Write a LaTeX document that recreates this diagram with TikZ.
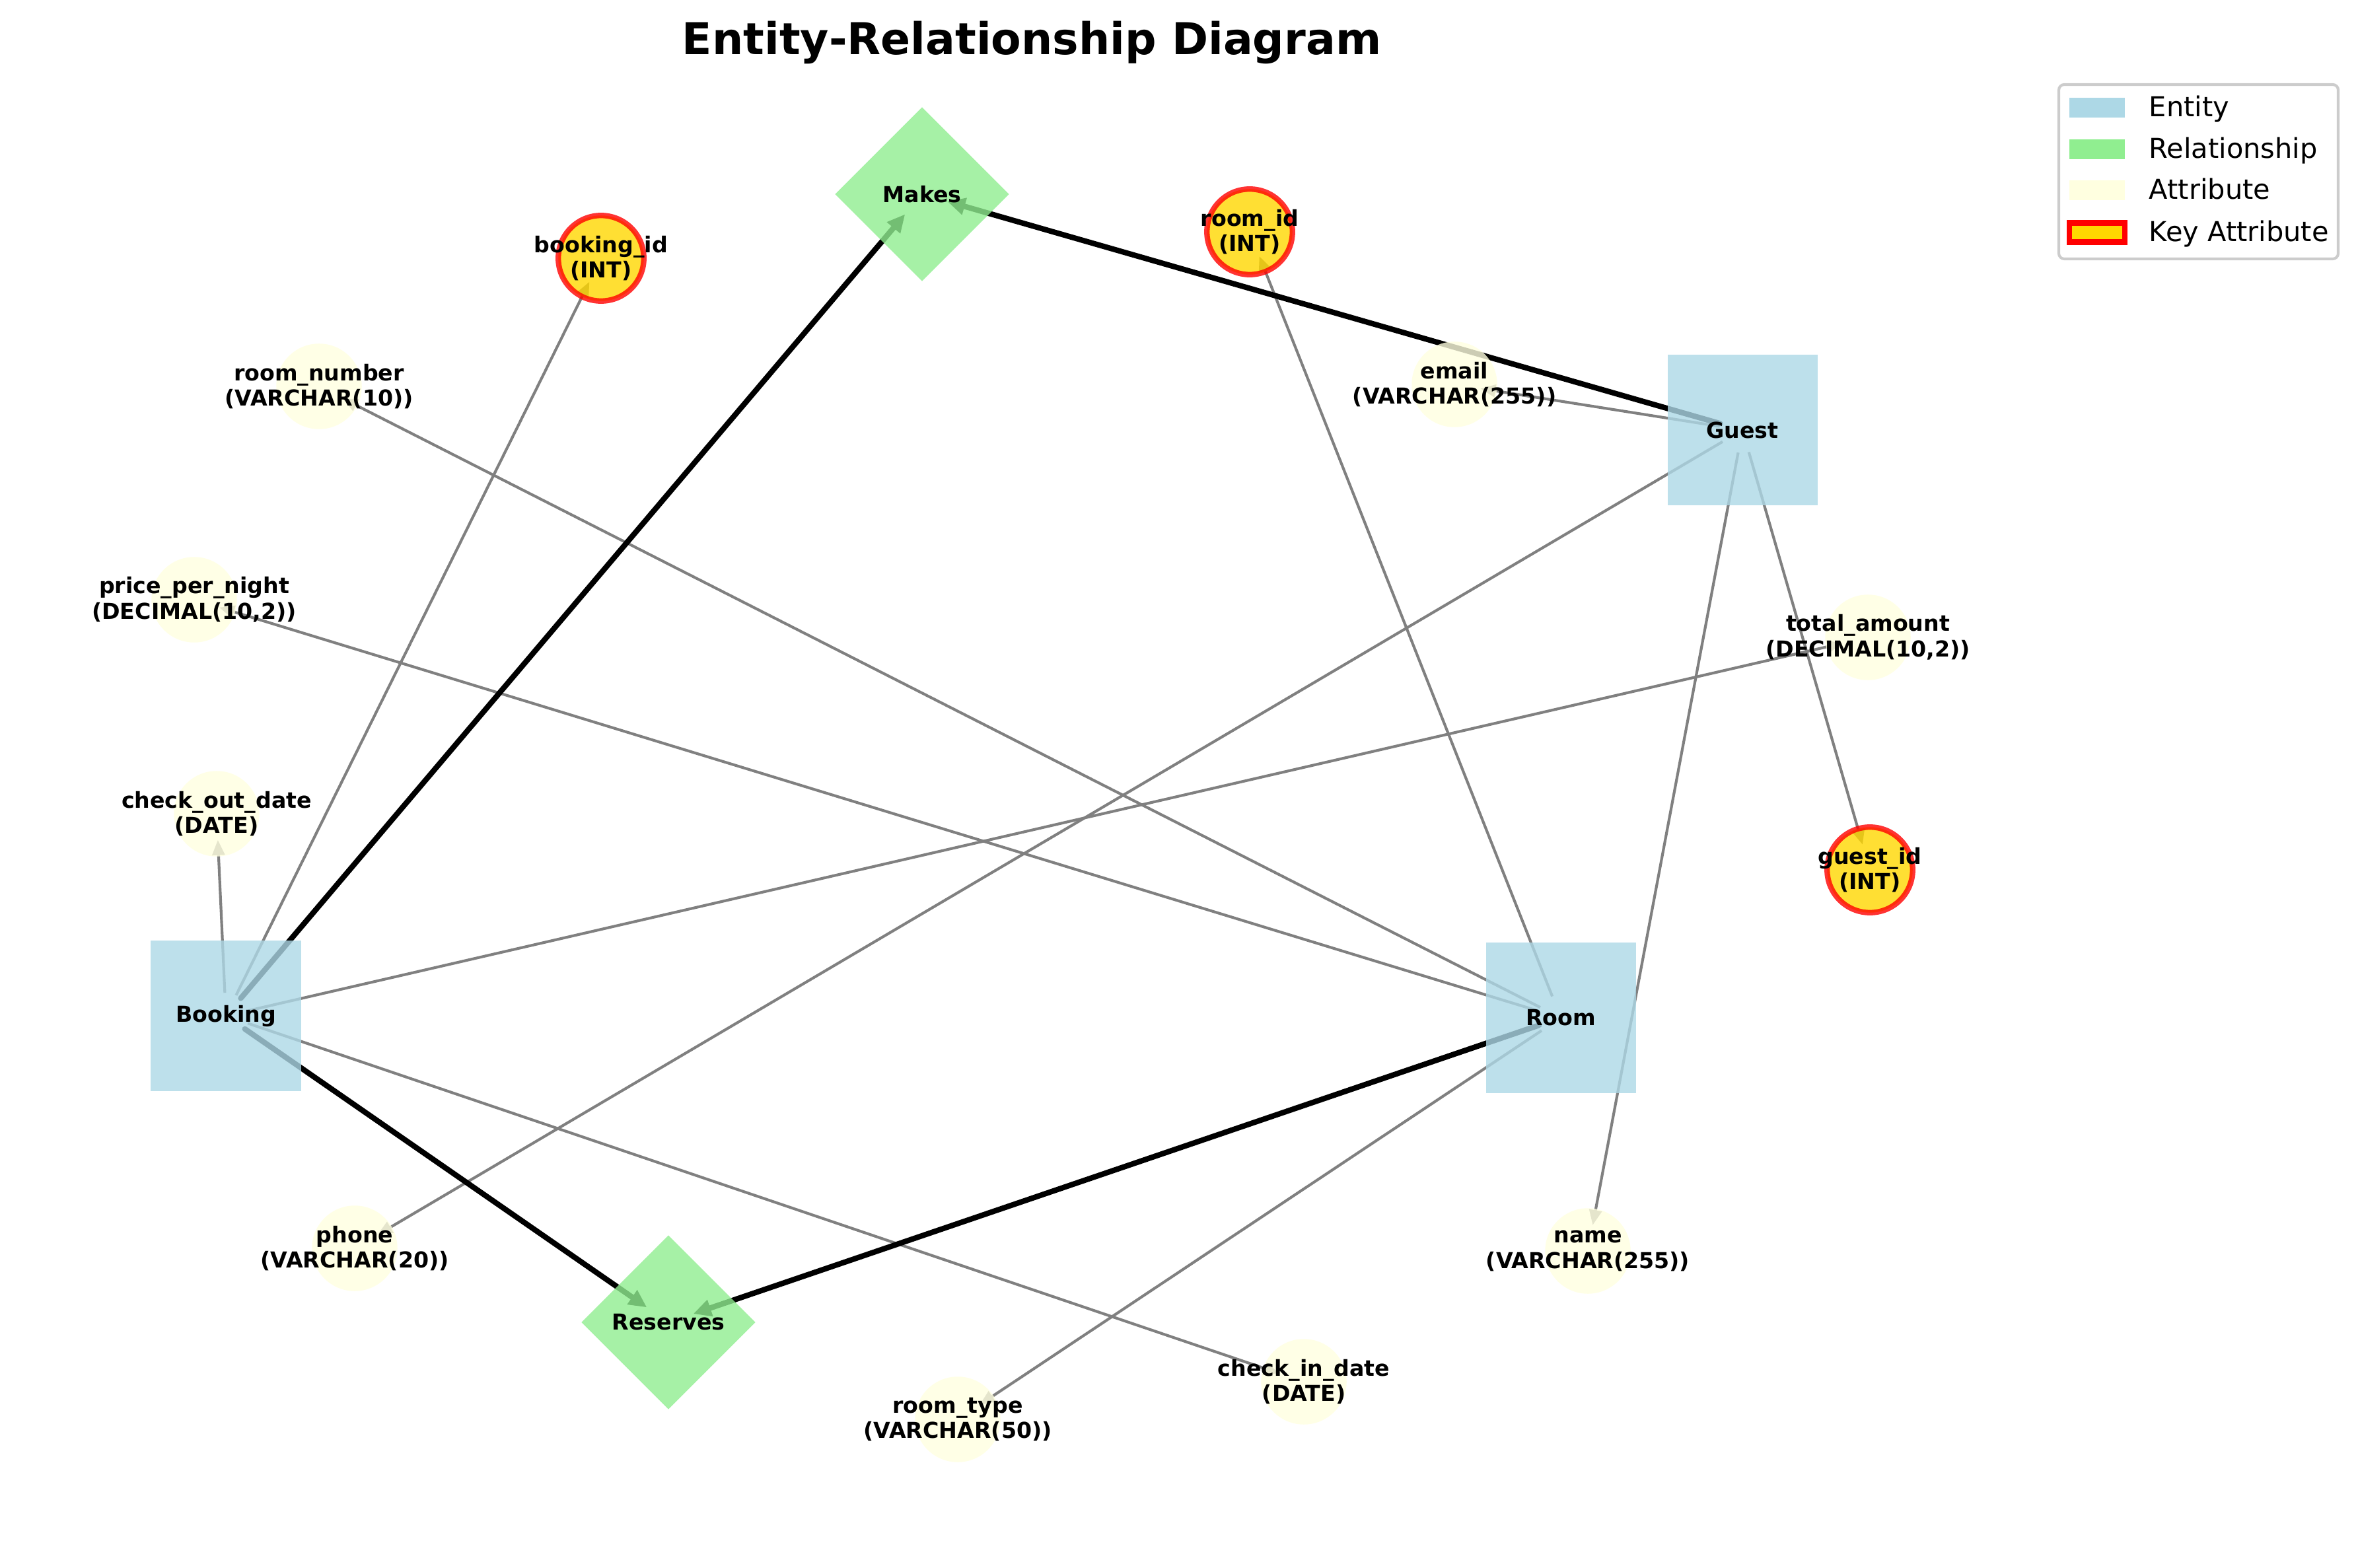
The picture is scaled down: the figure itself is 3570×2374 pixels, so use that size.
\documentclass[tikz,border=0pt]{standalone}
\usepackage{fontspec}
\setmainfont{DejaVu Sans}
\usetikzlibrary{shapes.geometric,arrows.meta,backgrounds}
\definecolor{lightblue}{RGB}{173,216,230}
\definecolor{lightgreen}{RGB}{144,238,144}
\definecolor{lightyellow}{RGB}{255,255,224}
\definecolor{gold}{RGB}{255,215,0}
\definecolor{legendgray}{RGB}{204,204,204}

\begin{document}
\begin{tikzpicture}[x=0.0846667mm, y=-0.0846667mm,
every node/.style = {align=center, text centered,
font=\bfseries\fontsize{8}{9.3}\selectfont}, entity/.style={
rectangle, fill=lightblue, fill opacity=0.8, text opacity=1,
minimum size=54.7pt, inner sep=0pt}, relation/.style={diamond,
fill=lightgreen, fill opacity=0.8, text opacity=1, minimum size=63.6pt,
inner sep=0pt}, attr/.style={circle, fill=lightyellow, fill opacity=0.8,
text opacity=1, minimum size=31.2pt, inner sep=0pt,
label={[text opacity=1, fill opacity=1]center:#1}},
keyattr/.style={attr={#1}, fill=gold, draw=red, draw opacity=0.8,
line width=2pt}, link/.style={black!50, line width=1pt,
-{Triangle[length=5.5pt,width=4.5pt]}, shorten <=8.4pt,
shorten >=9.6pt}, rel/.style={black, line width=2pt, line cap=round,
-{Triangle[length=6.5pt,width=6pt]}, shorten <=8.4pt,
shorten >=9.6pt}, legpatch/.style={rectangle, minimum width=20.2pt,
minimum height=7pt, inner sep=0pt}, legtext/.style={anchor=base west,
inner sep=0pt, font=\mdseries\fontsize{10}{12}\selectfont} ]
\useasboundingbox (0,0) rectangle (3570,2374);
\node[anchor=base, font=\bfseries\fontsize{16}{19}\selectfont] (title)
  at (1562,83) {Entity-Relationship Diagram};
\node[entity] (booking) at (342,1538) {Booking};
\node[entity] (room) at (2363,1541) {Room};
\node[entity] (guest) at (2638,651) {Guest};
\node[relation] (makes) at (1396,294) {Makes};
\node[relation] (reserves) at (1012,2002) {Reserves};
\node[keyattr={booking\_id\\(INT)}] (bookingid) at (910,391) {};
\node[keyattr={room\_id\\(INT)}] (roomid) at (1892,351) {};
\node[keyattr={guest\_id\\(INT)}] (guestid) at (2831,1317) {};
\node[attr={email\\(VARCHAR(255))}] (email) at (2202,582) {};
\node[attr={room\_number\\(VARCHAR(10))}] (roomnumber) at (483,585) {};
\node[attr={price\_per\_night\\(DECIMAL(10,2))}] (price) at (294,908) {};
\node[attr={check\_out\_date\\(DATE)}] (checkout) at (328,1232) {};
\node[attr={total\_amount\\(DECIMAL(10,2))}] (total) at (2828,965) {};
\node[attr={phone\\(VARCHAR(20))}] (phone) at (537,1890) {};
\node[attr={name\\(VARCHAR(255))}] (name) at (2404,1894) {};
\node[attr={check\_in\_date\\(DATE)}] (checkin) at (1974,2092) {};
\node[attr={room\_type\\(VARCHAR(50))}] (roomtype) at (1450,2149) {};
\begin{pgfonlayer}{background}
\draw[link] (booking.center) -- (bookingid.center);
\draw[link] (booking.center) -- (checkout.center);
\draw[link] (booking.center) -- (total.center);
\draw[link] (booking.center) -- (checkin.center);
\draw[link] (room.center) -- (roomid.center);
\draw[link] (room.center) -- (roomnumber.center);
\draw[link] (room.center) -- (price.center);
\draw[link] (room.center) -- (roomtype.center);
\draw[link] (guest.center) -- (guestid.center);
\draw[link] (guest.center) -- (email.center);
\draw[link] (guest.center) -- (phone.center);
\draw[link] (guest.center) -- (name.center);
\draw[rel] (booking.center) -- (makes.center);
\draw[rel] (guest.center) -- (makes.center);
\draw[rel] (booking.center) -- (reserves.center);
\draw[rel] (room.center) -- (reserves.center);
\end{pgfonlayer}
\draw[legendgray, line width=1pt, fill=white, fill opacity=0.8,
  rounded corners=2pt] (3117,128) rectangle (3540,392);
\node[legpatch, fill=lightblue] (legentity) at (3175,163) {};
\node[legpatch, fill=lightgreen] (legrelation) at (3175,226) {};
\node[legpatch, fill=lightyellow] (legattr) at (3175,288) {};
\node[legpatch, fill=gold, draw=red, line width=2pt] (legkey)
  at (3175,352) {};
\node[legtext] (legentitytext) at (3253,177) {Entity};
\node[legtext] (legrelationtext) at (3253,240) {Relationship};
\node[legtext] (legattrtext) at (3253,302) {Attribute};
\node[legtext] (legkeytext) at (3253,366) {Key Attribute};
\end{tikzpicture}
\end{document}
